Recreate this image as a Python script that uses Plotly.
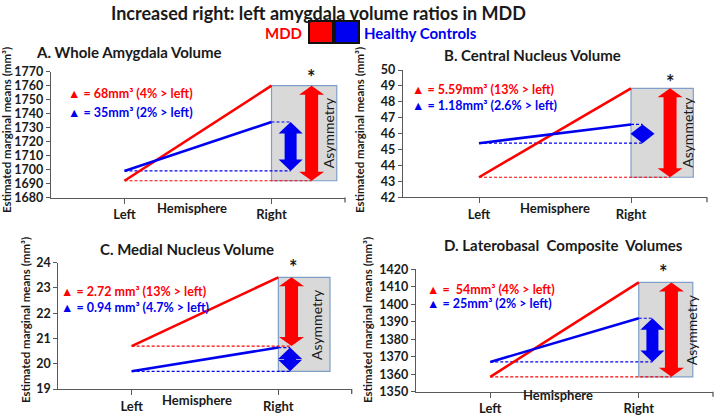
import plotly.graph_objects as go

W, H = 715, 420

# ---------------- data ----------------
hemispheres = ["Left", "Right"]
panel_titles = ["A. Whole Amygdala Volume", "B. Central Nucleus Volume",
                "C. Medial Nucleus Volume", "D. Laterobasal  Composite  Volumes"]
mdd_A = [1692, 1760]
hc_A = [1699, 1734]
mdd_B = [43.26, 48.85]
hc_B = [45.4, 46.58]
mdd_C = [20.7, 23.42]
hc_C = [19.7, 20.64]
mdd_D = [1358.5, 1412.5]
hc_D = [1367, 1392]
yrange_A = [1680, 1770]
yrange_B = [42, 50]
yrange_C = [19, 24]
yrange_D = [1350, 1420]
ydtick = [10, 1, 1, 10]
mdd_labels = ["▲ = 68mm³ (4% > left)", "▲ = 5.59mm³ (13% > left)",
              "▲ = 2.72 mm³ (13% > left)", "▲ =  54mm³ (4% > left)"]
hc_labels = ["▲ = 35mm³ (2% > left)", "▲ = 1.18mm³ (2.6% > left)",
             "▲ = 0.94 mm³ (4.7% > left)", "▲ = 25mm³ (2% > left)"]
main_title = "Increased right: left amygdala volume ratios in MDD"
ytitle = "Estimated marginal means (mm³)"
xtitle = "Hemisphere"
legend_names = ["MDD", "Healthy Controls"]
note_text = "Asymmetry"

mdd = [mdd_A, mdd_B, mdd_C, mdd_D]
hc = [hc_A, hc_B, hc_C, hc_D]
yranges = [yrange_A, yrange_B, yrange_C, yrange_D]

# ---------------- layout geometry (pixels) ----------------
RED = "#ff0000"
BLUE = "#0000f0"
FONT = "Lato"
geo = [
    dict(x0=51, x1=345, yt=71.7, yb=197.5, red_x=1.273, blue_x=1.13, box_r=1.444,
         txt=(66, 94, 113), title=(129, 52), yt_pos=(6, 130), hemi=(192, 208),
         star=(311.7, 77), asym_x=328),
    dict(x0=403, x1=707, yt=70, yb=197.3, red_x=1.257, blue_x=1.076, box_r=1.41,
         txt=(410, 89, 105), title=(532, 55), yt_pos=(359, 130), hemi=(555, 208),
         star=(670, 81.7), asym_x=688),
    dict(x0=58.3, x1=351.7, yt=262.7, yb=389, red_x=1.09, blue_x=1.08, box_r=1.352,
         txt=(59, 291, 307), title=(186.7, 249), yt_pos=(25, 320), hemi=(197, 400),
         star=(293.3, 266.7), asym_x=316.7),
    dict(x0=416, x1=713, yt=269.3, yb=391.7, red_x=1.22, blue_x=1.092, box_r=1.364,
         txt=(425, 289, 303), title=(563, 245), yt_pos=(367, 320), hemi=(558, 395),
         star=(663, 271.7), asym_x=691.7),
]


def pxx(x):
    return x / W


def pxy(y):
    return 1 - y / H


fig = go.Figure()
shapes = []
annotations = []


def arrow_path(xc, y0, y1, sw, hw, hl):
    length = abs(y1 - y0)
    if 2 * hl >= length:
        mid = (y0 + y1) / 2
        pts = [(xc, y1), (xc + hw, mid), (xc, y0), (xc - hw, mid)]
    else:
        pts = [(xc, y1), (xc + hw, y1 - hl), (xc + sw, y1 - hl), (xc + sw, y0 + hl),
               (xc + hw, y0 + hl), (xc, y0), (xc - hw, y0 + hl), (xc - sw, y0 + hl),
               (xc - sw, y1 - hl), (xc - hw, y1 - hl)]
    return "M " + " L ".join(f"{a:.5f},{b:.5f}" for a, b in pts) + " Z"


AXC = "#595959"
for i in range(4):
    g = geo[i]
    xa = "x" if i == 0 else f"x{i+1}"
    ya = "y" if i == 0 else f"y{i+1}"
    xkey = "xaxis" if i == 0 else f"xaxis{i+1}"
    ykey = "yaxis" if i == 0 else f"yaxis{i+1}"
    yr = yranges[i]
    m, h = mdd[i], hc[i]

    fig.update_layout({
        xkey: dict(domain=[pxx(g["x0"]), pxx(g["x1"])], anchor=ya, type="category",
                   categoryorder="array", categoryarray=hemispheres, automargin=False,
                   range=[-0.5, 1.5], showline=True, linecolor=AXC, linewidth=1.3,
                   ticks="outside", ticklen=5, tickcolor=AXC, tickwidth=1.3,
                   showgrid=False, zeroline=False,
                   tickfont=dict(family=FONT, size=13, color="#1a1a1a", weight="bold")),
        ykey: dict(domain=[pxy(g["yb"]), pxy(g["yt"])], anchor=xa, range=yr, automargin=False,
                   dtick=ydtick[i], tick0=yr[0], showline=True, linecolor=AXC,
                   linewidth=1.3, ticks="outside", ticklen=4, tickcolor=AXC,
                   tickwidth=1.3, showgrid=False, zeroline=False,
                   tickfont=dict(family=FONT, size=12.5, color="#1a1a1a", weight="bold")),
    })

    ppx = (g["x1"] - g["x0"]) / 2.0
    ppy = (g["yb"] - g["yt"]) / (yr[1] - yr[0])

    shapes.append(dict(type="rect", xref=xa, yref=ya, x0=1, x1=g["box_r"],
                       y0=min(m[0], h[0]), y1=max(m[1], h[1]),
                       fillcolor="#d9d9d9", line=dict(color="#7f9fc8", width=1.2),
                       layer="below"))
    shapes.append(dict(type="line", xref=xa, yref=ya, x0=0, x1=g["red_x"], y0=m[0], y1=m[0],
                       line=dict(color=RED, width=1.2, dash="3px,2px"), layer="below"))
    shapes.append(dict(type="line", xref=xa, yref=ya, x0=0, x1=g["blue_x"], y0=h[0], y1=h[0],
                       line=dict(color=BLUE, width=1.2, dash="3px,2px"), layer="below"))
    shapes.append(dict(type="line", xref=xa, yref=ya, x0=1, x1=g["blue_x"], y0=h[1], y1=h[1],
                       line=dict(color=BLUE, width=1.2, dash="3px,2px"), layer="below"))
    shapes.append(dict(type="line", xref=f"{xa} domain", yref=f"{ya} domain",
                       ysizemode="pixel", yanchor=0, x0=1, x1=1, y0=0, y1=-5,
                       line=dict(color=AXC, width=1.3)))

    fig.add_trace(go.Scatter(x=hemispheres, y=m, mode="lines", xaxis=xa, yaxis=ya,
                             line=dict(color=RED, width=2.6), showlegend=False,
                             name=legend_names[0]))
    fig.add_trace(go.Scatter(x=hemispheres, y=h, mode="lines", xaxis=xa, yaxis=ya,
                             line=dict(color=BLUE, width=2.6), showlegend=False,
                             name=legend_names[1]))

    shapes.append(dict(type="path", xref=xa, yref=ya,
                       path=arrow_path(g["red_x"], m[0], m[1], 6.5 / ppx, 12.5 / ppx, 9 / ppy),
                       fillcolor=RED, line=dict(width=0), layer="above"))
    shapes.append(dict(type="path", xref=xa, yref=ya,
                       path=arrow_path(g["blue_x"], h[0], h[1], 6 / ppx, 12 / ppx, 11.5 / ppy),
                       fillcolor=BLUE, line=dict(width=0), layer="above"))

    tx, ty1, ty2 = g["txt"]
    annotations.append(dict(text=mdd_labels[i], x=pxx(tx), y=pxy(ty1), xref="paper", yref="paper",
                            xanchor="left", yanchor="middle", showarrow=False,
                            font=dict(family=FONT, size=12.5, color=RED, weight="bold")))
    annotations.append(dict(text=hc_labels[i], x=pxx(tx), y=pxy(ty2), xref="paper", yref="paper",
                            xanchor="left", yanchor="middle", showarrow=False,
                            font=dict(family=FONT, size=12.5, color=BLUE, weight="bold")))
    annotations.append(dict(text=panel_titles[i], x=pxx(g["title"][0]), y=pxy(g["title"][1]),
                            xref="paper", yref="paper", xanchor="center", yanchor="middle",
                            showarrow=False,
                            font=dict(family=FONT, size=15, color="#1a1a1a", weight="bold")))
    annotations.append(dict(text=ytitle, x=pxx(g["yt_pos"][0]), y=pxy(g["yt_pos"][1]),
                            xref="paper", yref="paper", xanchor="center", yanchor="middle",
                            textangle=-90, showarrow=False, borderpad=0,
                            font=dict(family=FONT, size=11.5, color="#1a1a1a", weight="bold")))
    annotations.append(dict(text=xtitle, x=pxx(g["hemi"][0]), y=pxy(g["hemi"][1]),
                            xref="paper", yref="paper", xanchor="center", yanchor="middle",
                            showarrow=False,
                            font=dict(family=FONT, size=13, color="#1a1a1a", weight="bold")))
    annotations.append(dict(text="*", x=pxx(g["star"][0]), y=pxy(g["star"][1]),
                            xref="paper", yref="paper", xanchor="center", yanchor="middle",
                            showarrow=False,
                            font=dict(family=FONT, size=20, color="#1a1a1a", weight="bold")))
    box_mid = (min(m[0], h[0]) + max(m[1], h[1])) / 2
    annotations.append(dict(text=note_text, x=pxx(g["asym_x"]), y=box_mid,
                            xref="paper", yref=ya, xanchor="center", yanchor="middle",
                            textangle=-90, showarrow=False,
                            font=dict(family=FONT, size=14, color="#1a1a1a")))

annotations.append(dict(text=main_title, x=pxx(318.5), y=pxy(12.5), xref="paper", yref="paper",
                        xanchor="center", yanchor="middle", showarrow=False,
                        font=dict(family=FONT, size=18, color="#1a1a1a", weight="bold")))
annotations.append(dict(text=legend_names[0], x=pxx(304), y=pxy(33), xref="paper", yref="paper",
                        xanchor="right", yanchor="middle", showarrow=False,
                        font=dict(family=FONT, size=15, color=RED, weight="bold")))
annotations.append(dict(text=legend_names[1], x=pxx(362), y=pxy(33), xref="paper", yref="paper",
                        xanchor="left", yanchor="middle", showarrow=False,
                        font=dict(family=FONT, size=15, color=BLUE, weight="bold")))
shapes.append(dict(type="rect", xref="paper", yref="paper", x0=pxx(309), x1=pxx(333),
                   y0=pxy(43), y1=pxy(21), fillcolor=RED, line=dict(color="#111111", width=2)))
shapes.append(dict(type="rect", xref="paper", yref="paper", x0=pxx(335), x1=pxx(359),
                   y0=pxy(43), y1=pxy(21), fillcolor=BLUE, line=dict(color="#111111", width=2)))

fig.update_layout(width=W, height=H, margin=dict(l=0, r=0, t=0, b=0, autoexpand=False),
                  paper_bgcolor="white", plot_bgcolor="rgba(0,0,0,0)",
                  shapes=shapes, annotations=annotations, showlegend=False,
                  font=dict(family=FONT))
fig.write_html("out.html", config={"displayModeBar": False},
               post_script="document.body.style.margin='0';document.body.style.padding='0';")
